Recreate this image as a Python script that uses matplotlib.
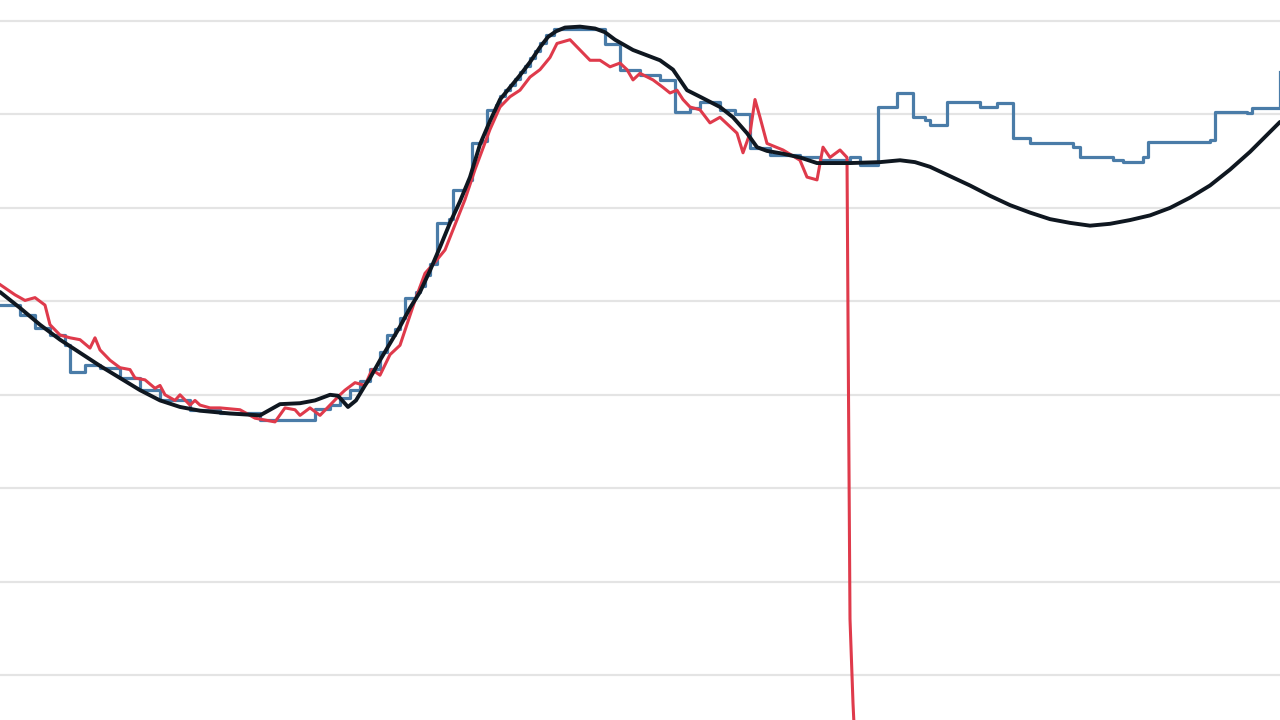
import matplotlib
matplotlib.use("Agg")
import matplotlib.pyplot as plt

# Smooth trend (black)
black_x = [0, 2, 4, 6, 8, 10, 12, 14, 16, 18, 20, 23, 26, 27, 28, 30, 31.5, 33, 33.8, 34.8, 35.6,
           36.5, 37, 38, 39, 40, 41, 42, 43, 44, 45, 46, 47, 48, 49, 50, 51, 52, 53, 54, 54.8,
           55.6, 56.5, 58, 59.5, 60.5, 61.5, 63.3, 66, 67.3, 68.7, 70, 72, 73.3, 74.7, 75.7,
           76.7, 78.3, 80, 81.7, 85, 88, 90, 91.5, 93, 95, 97, 99, 101, 103,
           105, 107, 109, 111, 113, 115, 117, 119, 121, 123, 125, 126.5, 128]
black_y = [4.10, 3.93, 3.75, 3.59, 3.45, 3.31, 3.18, 3.05, 2.94, 2.87, 2.83, 2.80, 2.78, 2.84,
           2.90, 2.91, 2.94, 3.00, 2.99, 2.87, 2.94, 3.10, 3.18, 3.37, 3.55, 3.73, 3.93, 4.10,
           4.33, 4.58, 4.84, 5.07, 5.33, 5.68, 5.93, 6.16, 6.29, 6.42, 6.56, 6.72, 6.83, 6.89,
           6.93, 6.94, 6.92, 6.88, 6.80, 6.69, 6.58, 6.48, 6.26, 6.19, 6.08, 5.97, 5.80, 5.65,
           5.61, 5.58, 5.54, 5.48, 5.48, 5.49, 5.51, 5.49, 5.44, 5.34,
           5.24, 5.13, 5.03, 4.95, 4.88, 4.84, 4.81, 4.83, 4.87, 4.92, 5.00, 5.11, 5.24, 5.41,
           5.60, 5.76, 5.92]

# Stepped series (blue)
blue_x = [0, 2, 3.5, 5, 6.5, 7, 8.5, 10, 12, 14, 16, 19, 22, 26, 31.5, 33, 34, 35, 36, 37, 38,
          38.7, 39.5, 40, 40.5, 41.6, 42, 42.5, 43, 43.7, 44.9, 45.3, 46.5, 46.8, 47.2, 48.1,
          48.7, 49.6, 50, 50.5, 51, 51.5, 52, 52.5, 53, 53.5, 54, 54.6, 55.4, 60.5, 62, 64, 66,
          67.5, 69, 70, 72, 73.5, 75, 77, 80, 82, 85, 86, 87.8, 89.7, 91.3, 92.5, 93, 94.7, 98,
          99.7, 101.3, 103, 107.3, 108, 111.3, 112.3, 114.3, 114.8, 121, 121.5, 124.7, 125.2,
          127.8, 128]
blue_y = [3.96, 3.85, 3.72, 3.64, 3.53, 3.24, 3.32, 3.29, 3.18, 3.05, 2.94, 2.84, 2.81, 2.73,
          2.85, 2.89, 2.97, 3.05, 3.15, 3.28, 3.46, 3.64, 3.70, 3.82, 4.04, 4.10, 4.16, 4.28,
          4.40, 4.84, 4.88, 5.19, 5.22, 5.30, 5.69, 5.72, 6.05, 6.10, 6.20, 6.26, 6.32, 6.38,
          6.45, 6.52, 6.60, 6.68, 6.76, 6.85, 6.92, 6.75, 6.48, 6.42, 6.37, 6.03, 6.07, 6.13,
          6.05, 6.00, 5.64, 5.57, 5.54, 5.51, 5.54, 5.46, 6.08, 6.23, 5.97, 5.94, 5.89, 6.13,
          6.08, 6.12, 5.75, 5.70, 5.65, 5.54, 5.51, 5.49, 5.54, 5.71, 5.73, 6.03, 6.02, 6.07,
          6.07, 6.45]

# Noisy series (red)
red_x = [0, 1.5, 2.5, 3.5, 4.5, 5, 6, 7, 8, 9, 9.5, 10, 11, 12, 13, 13.5, 14.5, 15.5, 16, 16.5,
         17.5, 18, 19, 19.5, 20, 21, 22, 24, 25.5, 26.5, 27.5, 28.5, 29.5, 30, 31, 32, 33, 34,
         34.5, 35.5, 36.5, 37.2, 38, 39, 40, 40.5, 41.5, 42.5, 43.5, 44.5, 45.5, 46.5, 47.5, 49,
         50, 51, 52, 53, 54, 55, 55.7, 57, 58, 59, 60, 61, 62, 62.7, 63.3, 64, 65.3, 66.3, 67,
         67.7, 68.3, 69, 70, 71, 72, 73, 73.7, 74.3, 75, 75.5, 76, 76.7, 78.3, 80, 80.7, 81.7,
         82.3, 83, 84, 84.7, 84.85, 85.0, 85.3, 85.7]
red_y = [4.18, 4.07, 4.01, 4.04, 3.96, 3.75, 3.64, 3.61, 3.59, 3.50, 3.61, 3.48, 3.37, 3.29,
         3.27, 3.18, 3.16, 3.07, 3.10, 3.00, 2.94, 3.00, 2.89, 2.94, 2.89, 2.86, 2.86, 2.84,
         2.75, 2.73, 2.71, 2.86, 2.84, 2.78, 2.86, 2.78, 2.89, 3.00, 3.05, 3.13, 3.10, 3.27,
         3.21, 3.43, 3.53, 3.69, 4.01, 4.30, 4.42, 4.55, 4.82, 5.09, 5.41, 5.84, 6.08, 6.19,
         6.26, 6.40, 6.48, 6.61, 6.76, 6.80, 6.69, 6.58, 6.58, 6.51, 6.55, 6.48, 6.37, 6.44,
         6.37, 6.29, 6.23, 6.26, 6.16, 6.08, 6.05, 5.91, 5.97, 5.87, 5.80, 5.59, 5.80, 6.16,
         5.97, 5.69, 5.62, 5.51, 5.33, 5.30, 5.65, 5.54, 5.62, 5.54, 3.0, 0.6, -0.3, -1.2]

grid_levels = [0, 1, 2, 3, 4, 5, 6, 7]

fig = plt.figure(figsize=(12.8, 7.2), dpi=100)
ax = fig.add_axes([0, 0, 1, 1])
ax.set_xlim(0, 128)
ax.set_ylim(-0.48, 7.225)
for g in grid_levels:
    ax.axhline(g, color="#e4e4e4", linewidth=1.6, zorder=0)

ax.plot(blue_x, blue_y, drawstyle="steps-post", color="#4a7ca8", linewidth=2.3, zorder=2)
ax.plot(red_x, red_y, color="#df3a4b", linewidth=2.2, zorder=3)
ax.plot(black_x, black_y, color="#0f1720", linewidth=2.8, zorder=4,
        solid_joinstyle="round", solid_capstyle="round")

for s in ax.spines.values():
    s.set_visible(False)
ax.set_xticks([])
ax.set_yticks([])
fig.savefig("out.png", dpi=100, facecolor="white")
